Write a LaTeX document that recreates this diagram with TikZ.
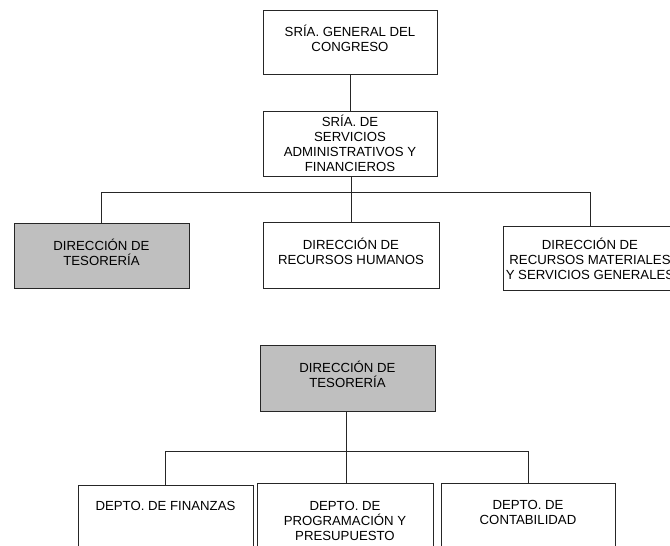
\documentclass[tikz,border=0pt]{standalone}
\usepackage{fontspec}
\setmainfont{Liberation Sans}
\begin{document}
\begin{tikzpicture}[x=1pt,y=-1pt,
  box/.style={draw=black!85, line width=0.9pt, fill=white, inner sep=0pt},
  shaded/.style={box, fill=black!25},
  conn/.style={draw=black!85, line width=0.8pt},
  txt/.style={align=center, inner sep=0pt, font=\fontsize{13.2}{15}\selectfont},
  toplbl/.style={txt, anchor=north}]
\useasboundingbox (0,0) rectangle (670,546);
\clip (0,0) rectangle (670,546);
% top chart
\node[box, minimum width=174pt, minimum height=64pt] (sg) at (350,42) {};
\node[txt, yshift=3.5pt] (sgt) at (sg.center) {SRÍA. GENERAL DEL\\CONGRESO};
\node[box, minimum width=174pt, minimum height=65pt] (ss) at (350,143.5) {};
\node[txt] (sst) at (ss.center) {SRÍA. DE\\SERVICIOS\\ADMINISTRATIVOS Y\\FINANCIEROS};
\node[shaded, minimum width=175pt, minimum height=65pt] (dt) at (101.5,255.5) {};
\node[txt, yshift=3.5pt] (dtt) at (dt.center) {DIRECCIÓN DE\\TESORERÍA};
\node[box, minimum width=176pt, minimum height=66pt] (rh) at (351,255) {};
\node[txt, yshift=3.5pt] (rht) at (rh.center) {DIRECCIÓN DE\\RECURSOS HUMANOS};
\node[box, minimum width=174pt, minimum height=64pt] (rm) at (590,258) {};
\node[txt, yshift=-0.5pt] (rmt) at (rm.center) {DIRECCIÓN DE\\RECURSOS MATERIALES\\Y SERVICIOS GENERALES};
\coordinate (j1) at (351,192);
\draw[conn] (sg.south) -- (ss.north);
\draw[conn] (ss.south -| rh.north) -- (rh.north);
\draw[conn] (dt.north) -- (dt.north |- j1) -- (rm.north |- j1) -- (rm.north);
% bottom chart
\node[shaded, minimum width=175pt, minimum height=66pt] (dt2) at (347.5,378) {};
\node[txt, yshift=3.5pt] (dt2t) at (dt2.center) {DIRECCIÓN DE\\TESORERÍA};
\node[box, minimum width=175pt, minimum height=90pt, anchor=north] (fi) at (165.5,485) {};
\node[box, minimum width=176pt, minimum height=90pt, anchor=north] (pp) at (345,483) {};
\node[box, minimum width=174pt, minimum height=90pt, anchor=north] (co) at (528,483) {};
\node[toplbl] (fit) at ([yshift=-16pt]fi.north) {DEPTO. DE FINANZAS};
\node[toplbl] (ppt) at ([yshift=-18pt]pp.north) {DEPTO. DE\\PROGRAMACIÓN Y\\PRESUPUESTO};
\node[toplbl] (cot) at ([yshift=-17pt]co.north) {DEPTO. DE\\CONTABILIDAD};
\coordinate (j2) at (346,451);
\draw[conn] (dt2.south -| j2) -- (j2 |- pp.north);
\draw[conn] (fi.north) -- (fi.north |- j2) -- (co.north |- j2) -- (co.north);
\end{tikzpicture}
\end{document}
